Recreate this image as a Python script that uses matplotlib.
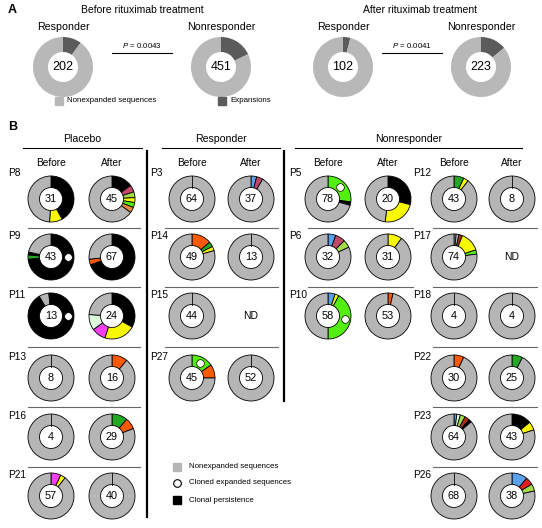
import numpy as np
import matplotlib.pyplot as plt

plt.rcParams['font.family'] = ['Liberation Sans', 'DejaVu Sans']
plt.rcParams['mathtext.fontset'] = 'custom'
plt.rcParams['mathtext.it'] = 'Liberation Sans:italic'
plt.rcParams['mathtext.rm'] = 'Liberation Sans'

W, H = 542, 528

# ---- panel A: pooled sequences, % expansions ----
a_groups = ['Responder', 'Nonresponder']
a_before_n = [202, 451]
a_before_exp = [10, 18]
a_after_n = [102, 223]
a_after_exp = [4, 14]
a_pvalues = ['0.0043', '0.0041']

# ---- panel B: segments (clone code, % of sequences), rest = nonexpanded ----
placebo_ids = ['P8', 'P9', 'P11', 'P13', 'P16', 'P21']
placebo_n_before = [31, 43, 13, 8, 4, 57]
placebo_n_after = [45, 67, 24, 16, 29, 40]
placebo_before = [
    [('K', 42), ('Y', 9)],
    [('K', 73.5), ('DG', 3), ('K', 2)],
    [('K', 91.5), ('G', 7), ('K', 1.5)],
    [],
    [],
    [('M', 7), ('Y', 3.5)],
]
placebo_after = [
    [('K', 15), ('R', 5), ('LG', 4), ('Y', 3.5), ('L', 3.5), ('T', 4)],
    [('K', 69.5), ('O', 4)],
    [('K', 33), ('Y', 22), ('M', 10), ('PG', 11)],
    [('O', 11)],
    [('DG', 11), ('O', 8)],
    [],
]
placebo_dot_before = [None, 90, 90, None, None, None]
placebo_dot_after = [None] * 6

resp_ids = ['P3', 'P14', 'P15', 'P27']
resp_n_before = [64, 49, 44, 45]
resp_n_after = [37, 13, None, 52]
resp_before = [
    [],
    [('O', 14), ('DG', 3.5), ('Y', 3)],
    [],
    [('L', 15.5), ('O', 9.5)],
]
resp_after = [
    [('B', 4), ('R', 4.5)],
    [],
    [],
    [],
]
resp_dot_before = [None, None, None, 28]
resp_dot_after = [None] * 4

nonl_ids = ['P5', 'P6', 'P10']
nonl_n_before = [78, 32, 58]
nonl_n_after = [20, 31, 53]
nonl_before = [
    [('L', 27), ('K', 2.5)],
    [('B', 5.5), ('R', 7), ('LG', 5.5)],
    [('B', 5), ('Y', 2.8), ('L', 42.2)],
]
nonl_after = [
    [('K', 29), ('Y', 23)],
    [('Y', 10)],
    [('O', 3.5)],
]
nonl_dot_before = [45, None, 100]
nonl_dot_after = [None] * 3

nonr_ids = ['P12', 'P17', 'P18', 'P22', 'P23', 'P26']
nonr_n_before = [43, 74, 4, 30, 64, 68]
nonr_n_after = [8, None, 4, 25, 43, 38]
nonr_before = [
    [('DG', 7), ('Y', 3.5)],
    [('C', 1.5), ('G', 2), ('BR', 2.5), ('Y', 14), ('L', 3)],
    [],
    [('O', 7)],
    [('B', 2), ('PG', 2.5), ('LG', 3.5), ('BR', 3.5), ('K', 2)],
    [],
]
nonr_after = [
    [],
    [],
    [],
    [('DG', 7.5)],
    [('K', 14), ('Y', 6)],
    [('B', 11), ('RD', 5.5), ('LG', 5)],
]
nonr_dot_before = [None] * 6
nonr_dot_after = [None] * 6

colors = {
    'G': '#b5b5b5', 'K': '#000000', 'Y': '#f8f800', 'DG': '#22a822',
    'L': '#55ee11', 'LG': '#a4dc48', 'O': '#ff5a00', 'R': '#c04868',
    'B': '#5aa0ea', 'M': '#f440f0', 'PG': '#ddfadd', 'T': '#e08a3a',
    'RD': '#e02020', 'BR': '#a83010', 'C': '#a8e8e8',
}

fig = plt.figure(figsize=(W / 100, H / 100), dpi=100)
ax = fig.add_axes([0, 0, 1, 1])

# ---------------- panel A ----------------
ax.text(8, 10, 'A', fontsize=9, fontweight='bold', va='center')
ax.text(142, 10, 'Before rituximab treatment', fontsize=7.5, ha='center', va='center')
ax.text(420, 10, 'After rituximab treatment', fontsize=7.5, ha='center', va='center')

a_cx = [(63, 221), (343, 481)]
for k, (ns, exps) in enumerate([(a_before_n, a_before_exp), (a_after_n, a_after_exp)]):
    for j in range(2):
        cx, cy = a_cx[k][j], 67
        ax.pie([exps[j], 100 - exps[j]], colors=['#5b5b5b', '#b8b8b8'],
               center=(cx, cy), radius=30, startangle=-90, counterclock=True,
               frame=True, wedgeprops=dict(width=15, linewidth=0))
        ax.text(cx, cy, str(ns[j]), fontsize=9, ha='center', va='center')
        ax.text(cx, 27, a_groups[j], fontsize=7.7, ha='center', va='center')
    mx = (a_cx[k][0] + a_cx[k][1]) / 2
    ax.plot([mx - 30, mx + 30], [53, 53], color='black', lw=0.8)
    ax.text(mx, 46, '$P$ = ' + a_pvalues[k], fontsize=5.7, ha='center', va='center')

ax.plot(59, 101, 's', ms=5.5, color='#b8b8b8')
ax.text(67, 101, 'Nonexpanded sequences', fontsize=5.7, va='center')
ax.plot(222, 101, 's', ms=5.5, color='#5b5b5b')
ax.text(230, 101, 'Expansions', fontsize=5.7, va='center')

# ---------------- panel B ----------------
ax.text(8, 127, 'B', fontsize=9, fontweight='bold', va='center')
row_y = [199, 257, 316, 378, 437, 496]
sep_y = [228, 287, 347, 407, 467]
R_OUT, R_W = 23, 11.5


def donut(cx, cy, segs, n, dot):
    if n is None:
        ax.text(cx, cy, 'ND', fontsize=7.5, ha='center', va='center')
        return
    vals = [v for c, v in segs]
    cols = [colors[c] for c, v in segs]
    rest = 100 - sum(vals)
    if rest > 0:
        vals.append(rest)
        cols.append(colors['G'])
    ax.pie(vals, colors=cols, center=(cx, cy), radius=R_OUT, startangle=-90,
           counterclock=True, frame=True,
           wedgeprops=dict(width=R_W, edgecolor='black', linewidth=0.6))
    if len(vals) == 1:
        ax.plot([cx, cx], [cy - R_OUT, cy - R_OUT + R_W], color='black', lw=0.6)
    ax.text(cx, cy, str(n), fontsize=7.8, ha='center', va='center')
    if dot is not None:
        th = np.deg2rad(dot - 90)
        r = R_OUT - R_W / 2
        ax.plot(cx + r * np.cos(th), cy + r * np.sin(th), 'o', ms=5.5,
                mfc='white', mec='black', mew=0.5)


groups = [
    (placebo_ids, placebo_n_before, placebo_n_after, placebo_before, placebo_after,
     placebo_dot_before, placebo_dot_after, 8, (51, 112), (28, 140)),
    (resp_ids, resp_n_before, resp_n_after, resp_before, resp_after,
     resp_dot_before, resp_dot_after, 150, (192, 251), (165, 278)),
    (nonl_ids, nonl_n_before, nonl_n_after, nonl_before, nonl_after,
     nonl_dot_before, nonl_dot_after, 289, (328, 388), (308, 413)),
    (nonr_ids, nonr_n_before, nonr_n_after, nonr_before, nonr_after,
     nonr_dot_before, nonr_dot_after, 413, (454, 512), (433, 537)),
]
for ids, nb, na, sb, sa, db, da, lx, (xb, xa), (s0, s1) in groups:
    ax.text(xb, 163, 'Before', fontsize=7.3, ha='center', va='center')
    ax.text(xa, 163, 'After', fontsize=7.3, ha='center', va='center')
    for i, pid in enumerate(ids):
        cy = row_y[i]
        ax.text(lx, cy - (26 if i == 0 else 21), pid, fontsize=7.3, va='center')
        donut(xb, cy, sb[i], nb[i], db[i])
        donut(xa, cy, sa[i], na[i], da[i])
        if i < len(ids) - 1:
            ax.plot([s0, s1], [sep_y[i], sep_y[i]], color='#666666', lw=0.8)

# headers
for name, x0, x1 in [('Placebo', 23, 142), ('Responder', 162, 280), ('Nonresponder', 295, 522)]:
    ax.text((x0 + x1) / 2, 139, name, fontsize=7.6, ha='center', va='center')
    ax.plot([x0, x1], [148, 148], color='black', lw=0.8)
ax.plot([147, 147], [151, 517], color='black', lw=1.6)
ax.plot([284, 284], [151, 401], color='black', lw=1.6)

# legend B
ax.plot(177, 467, 's', ms=5.5, color='#b5b5b5')
ax.text(189, 467, 'Nonexpanded sequences', fontsize=5.7, va='center')
ax.plot(177, 483, 'o', ms=5.5, mfc='white', mec='black', mew=0.8)
ax.text(189, 483, 'Cloned expanded sequences', fontsize=5.7, va='center')
ax.plot(177, 500, 's', ms=5.5, color='black')
ax.text(189, 500, 'Clonal persistence', fontsize=5.7, va='center')

ax.set_xlim(0, W)
ax.set_ylim(H, 0)
ax.set_axis_off()
fig.savefig('out.png', dpi=100)
